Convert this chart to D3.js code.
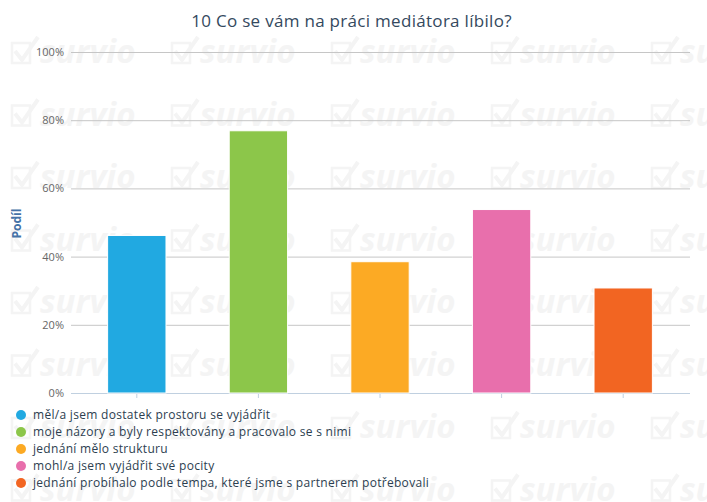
<!DOCTYPE html>
<html>
<head>
<meta charset="utf-8">
<script src="https://cdn.jsdelivr.net/npm/d3@7"></script>
<style>
  body { margin: 0; background: #fff; }
  svg { display: block; font-family: "Open Sans", "Noto Sans", sans-serif; }
</style>
</head>
<body>
<div id="chart"></div>
<script>
// data
var categories = [
    "měl/a jsem dostatek prostoru se vyjádřit",
    "moje názory a byly respektovány a pracovalo se s nimi",
    "jednání mělo strukturu",
    "mohl/a jsem vyjádřit své pocity",
    "jednání probíhalo podle tempa, které jsme s partnerem potřebovali"
];
var shares = [46.2, 76.9, 38.5, 53.8, 30.8];
var colors = ["#21a9e1", "#8cc64a", "#fcaa24", "#e86fac", "#f26522"];
var yTicks = [0, 20, 40, 60, 80, 100];
var title = "10 Co se vám na práci mediátora líbilo?";
var yTitle = "Podíl";

var W = 707, H = 502;
var margin = {top: 52, right: 17, bottom: 109, left: 71};
var width = W - margin.left - margin.right,
    height = H - margin.top - margin.bottom;

var svg = d3.select("#chart")
    .append("svg")
        .attr("width", W)
        .attr("height", H);

// faint watermark tiles in the background
var wmColor = "#f4f4f4";
var wm = svg.append("g").attr("class", "watermark");
for (var row = 0; row < 8; row++) {
    for (var col = 0; col < 5; col++) {
        var tx = 10 + col * 160, ty = 63 + row * 62.5;
        var t = wm.append("g").attr("transform", "translate(" + tx + "," + ty + ")");
        t.append("path")
            .attr("d", "M2,-20 L20,-20 L20,0 L2,0 Z")
            .attr("fill", "none")
            .attr("stroke", wmColor)
            .attr("stroke-width", 2.5);
        t.append("path")
            .attr("d", "M5,-12 L12,-3 L28,-26")
            .attr("fill", "none")
            .attr("stroke", wmColor)
            .attr("stroke-width", 4);
        t.append("text")
            .attr("x", 30)
            .attr("y", 0)
            .style("font-family", "'Open Sans', sans-serif")
            .style("font-size", "33px")
            .style("font-weight", "bold")
            .style("font-style", "italic")
            .style("fill", wmColor)
            .text("survio");
    }
}

// title
svg.append("text")
    .attr("x", W / 2 - 2)
    .attr("y", 27)
    .attr("text-anchor", "middle")
    .style("font-size", "17px")
    .style("letter-spacing", "0.3px")
    .style("fill", "#34495e")
    .text(title);

var g = svg.append("g")
    .attr("transform", "translate(" + margin.left + "," + margin.top + ")");

var x = d3.scaleBand()
    .domain(categories)
    .range([5, width - 6])
    .paddingInner(0.52)
    .paddingOuter(0.26);

var y = d3.scaleLinear()
    .domain([0, 100])
    .range([height, 0]);

// gridlines + labels
g.append("g")
    .call(d3.axisLeft(y)
        .tickValues(yTicks)
        .tickSize(-width)
        .tickPadding(7)
        .tickFormat(function(d) { return d + "%"; }))
    .call(function(a) { a.select(".domain").remove(); })
    .call(function(a) {
        a.selectAll(".tick line")
            .attr("stroke", function(d) { return d === 0 ? "#c0d0e0" : "#c6c6c6"; });
        a.selectAll(".tick text")
            .style("font-size", "11px")
            .style("font-family", "'Open Sans', sans-serif")
            .style("fill", "#666");
    });

// x ticks below the baseline
g.append("g")
    .attr("transform", "translate(0," + height + ")")
    .selectAll("line")
    .data(categories)
    .enter()
    .append("line")
        .attr("x1", function(d) { return x(d) + x.bandwidth() / 2; })
        .attr("x2", function(d) { return x(d) + x.bandwidth() / 2; })
        .attr("y1", 0)
        .attr("y2", 5)
        .attr("stroke", "#c0d0e0");

// y axis title
svg.append("text")
    .attr("transform", "translate(21," + (margin.top + height / 2 + 1) + ") rotate(-90)")
    .attr("text-anchor", "middle")
    .style("font-size", "12px")
    .style("font-weight", "bold")
    .style("fill", "#4572a7")
    .text(yTitle);

// bars
g.selectAll(".bar")
    .data(shares)
    .enter()
    .append("rect")
        .attr("class", "bar")
        .attr("x", function(d, i) { return x(categories[i]); })
        .attr("y", function(d) { return y(d); })
        .attr("width", x.bandwidth())
        .attr("height", function(d) { return height - y(d); })
        .style("fill", function(d, i) { return colors[i]; })
        .style("stroke", "#fff")
        .style("stroke-width", 1);

// legend
var legend = svg.append("g")
    .attr("transform", "translate(21,415)");

var items = legend.selectAll(".item")
    .data(categories)
    .enter()
    .append("g")
        .attr("class", "item")
        .attr("transform", function(d, i) { return "translate(0," + (i * 17) + ")"; });

items.append("circle")
    .attr("r", 5)
    .style("fill", function(d, i) { return colors[i]; });

items.append("text")
    .attr("x", 12)
    .attr("y", 4)
    .style("font-size", "12px")
    .style("letter-spacing", "0.3px")
    .style("fill", "#2c3e50")
    .text(function(d) { return d; });
</script>
</body>
</html>
